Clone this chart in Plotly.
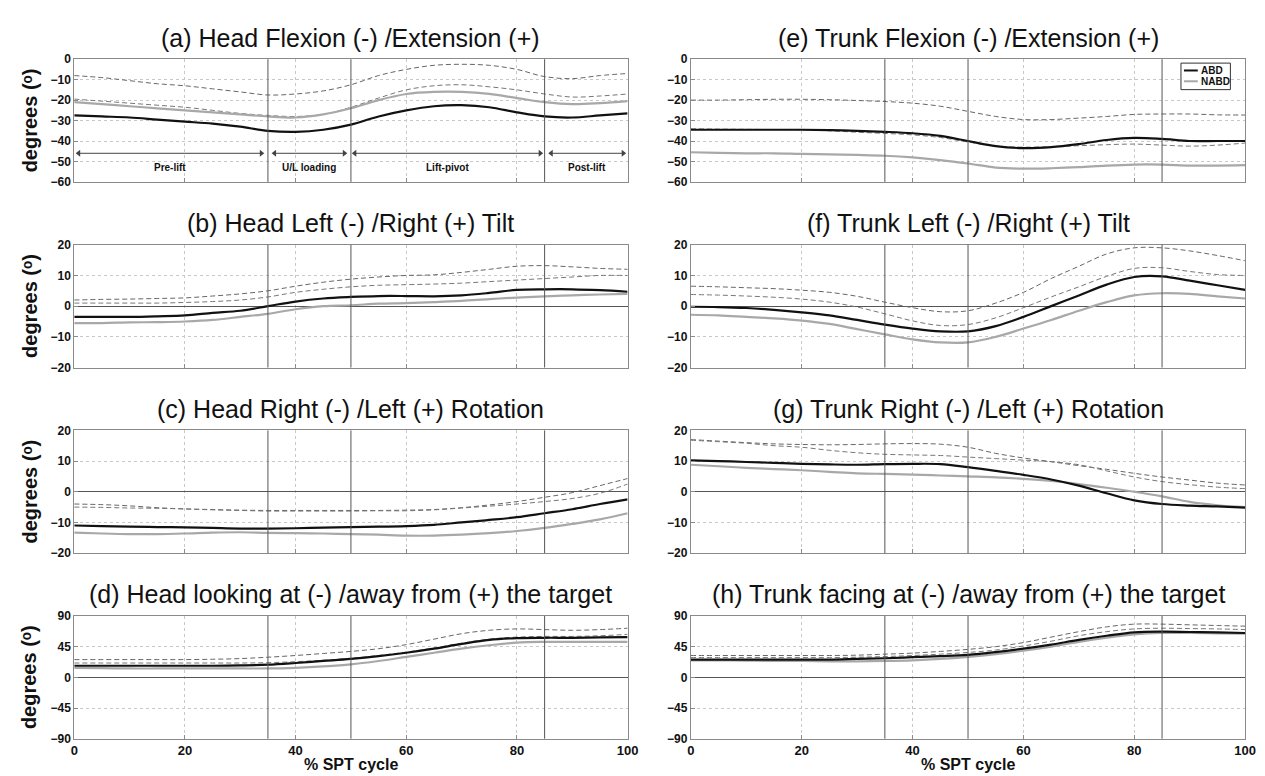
import plotly.graph_objects as go

W, H = 1265, 776

x_pct = [0, 5, 10, 15, 20, 25, 30, 35, 40, 45, 50, 55, 60, 65, 70, 75, 80, 85, 90, 95, 100]

# (a) Head Flexion/Extension
a_abd = [-27.5, -28, -28.5, -29.5, -30.5, -31.5, -33, -35, -35.5, -34.5, -32, -28, -25, -23, -22.5, -23.5, -26, -28, -28.5, -27.5, -26.5]
a_nabd = [-21, -22, -23, -24, -25, -26, -27, -28, -28.5, -27, -24, -20, -17, -16, -16, -17, -19, -21, -22, -21.5, -20.5]
a_sd1 = [-8, -9, -10.5, -12, -13, -14.5, -16, -17.5, -17, -15.5, -12.5, -8, -5, -3, -2.5, -3, -5, -8.5, -9.5, -8, -7]
a_sd2 = [-19.5, -20.5, -21.5, -22.5, -23.5, -25, -26.5, -27.5, -28, -27, -23.5, -19, -15, -13, -12.5, -13.5, -15, -17, -18.5, -18, -17]

# (b) Head Tilt
b_abd = [-3.5, -3.5, -3.5, -3.3, -3, -2.2, -1.5, 0, 1.5, 2.5, 3, 3.3, 3.3, 3.2, 3.5, 4.3, 5.3, 5.5, 5.5, 5.2, 4.7]
b_nabd = [-5.5, -5.5, -5.3, -5.2, -5, -4.5, -3.5, -2.5, -1, 0, 0.3, 0.8, 1, 1.3, 1.7, 2.3, 2.8, 3.2, 3.5, 3.8, 4]
b_sd1 = [2, 2.2, 2.3, 2.5, 2.7, 3.3, 4, 5, 6.5, 7.8, 8.8, 9.5, 10, 10.2, 11, 12, 13, 13.2, 12.8, 12.3, 12]
b_sd2 = [1, 1, 1, 1, 1.2, 1.5, 2, 3, 4.5, 5.5, 6.3, 6.8, 7, 7.2, 7.5, 8, 8.5, 9, 9.5, 10, 10]

# (c) Head Rotation
c_abd = [-11, -11.2, -11.4, -11.5, -11.6, -11.8, -12, -12, -11.9, -11.7, -11.5, -11.4, -11.2, -10.8, -10, -9.2, -8.3, -7, -5.7, -4, -2.5]
c_nabd = [-13.3, -13.6, -13.8, -13.8, -13.6, -13.3, -13.2, -13.4, -13.5, -13.6, -13.8, -14, -14.3, -14.3, -14, -13.5, -12.8, -11.8, -10.5, -9, -7]
c_sd1 = [-4, -4.2, -4.6, -5.2, -5.6, -5.8, -6, -6.1, -6.1, -6.1, -6.1, -6.1, -6, -5.8, -5.2, -4.3, -3.2, -1.8, -0.3, 2, 4.3]
c_sd2 = [-5, -5.1, -5.3, -5.4, -5.6, -5.9, -6.1, -6.3, -6.3, -6.3, -6.3, -6.2, -6.2, -5.9, -5.3, -4.7, -4, -3.2, -2.2, -0.5, 2.5]

# (d) Head looking at/away from target
d_abd = [17, 17, 17, 17, 17, 17, 17.5, 18.5, 21, 24, 27, 31, 36, 42, 49, 55, 57.5, 58, 58, 58.5, 59]
d_nabd = [14, 13.5, 13, 13, 13, 13, 13, 13, 14, 16, 19, 24, 30, 36, 42, 47, 51, 52, 52, 52, 52]
d_sd1 = [26, 26, 26, 26, 26, 26.5, 27.5, 29.5, 32, 35, 38, 42, 48, 56, 64, 69, 71, 70, 69, 70, 72]
d_sd2 = [21, 21, 21, 21, 21, 21, 21, 21.5, 23, 25, 28, 32, 37, 43, 50, 56, 59, 60, 60, 61, 63]

# (e) Trunk Flexion/Extension
e_abd = [-34.5, -34.5, -34.5, -34.5, -34.5, -34.7, -35, -35.5, -36.2, -37.5, -40, -42.5, -43.5, -43, -41.5, -39.5, -38.5, -39, -40, -40, -40]
e_nabd = [-45.5, -45.8, -46, -46, -46.3, -46.5, -46.8, -47.2, -48, -49.3, -51, -53, -53.5, -53.3, -52.8, -52, -51.5, -51.5, -52, -52, -51.8]
e_sd1 = [-20, -20, -19.8, -19.6, -19.6, -19.8, -20.2, -20.7, -21.5, -23, -25.5, -28, -29.5, -29.5, -28.8, -28, -27, -26.8, -26.8, -27.2, -27.3]
e_sd2 = [-34, -34.2, -34.3, -34.4, -34.5, -35, -35.7, -36.3, -37, -38.3, -40.5, -42.5, -43, -42.8, -42.3, -41.8, -41.5, -42, -42.5, -42, -41]

# (f) Trunk Tilt
f_abd = [-0.2, -0.3, -0.6, -1.2, -2, -3, -4.5, -6, -7.3, -8.2, -8.2, -6.5, -3.5, 0, 3.5, 7, 9.5, 9.7, 8.3, 6.8, 5.3]
f_nabd = [-2.8, -3, -3.5, -4, -4.7, -5.8, -7.5, -9.2, -10.8, -11.8, -11.8, -10, -7.3, -4.5, -1.5, 1.3, 3.5, 4.2, 4, 3.2, 2.5]
f_sd1 = [6.5, 6.3, 6, 5.7, 5.2, 4.5, 3.2, 1.3, -0.5, -1.8, -1.5, 1, 4.5, 9, 13, 17, 19, 19, 18, 16.5, 14.8]
f_sd2 = [3.8, 3.6, 3.3, 2.9, 2.3, 1.3, -0.3, -2.5, -4.8, -6.3, -6, -3.8, -0.5, 3, 6.3, 9.7, 12.3, 12.5, 11.3, 10.3, 10]

# (g) Trunk Rotation
g_abd = [10.2, 10, 9.7, 9.4, 9.1, 8.9, 8.8, 9, 9.1, 9, 8, 6.8, 5.5, 4, 2, -0.5, -2.8, -4, -4.5, -4.8, -5.2]
g_nabd = [8.8, 8.3, 7.8, 7.4, 7, 6.5, 6, 5.8, 5.6, 5.3, 5, 4.7, 4.2, 3.5, 2.5, 1.3, 0, -1.5, -3.3, -4.4, -5]
g_sd1 = [17, 16.5, 16, 15.6, 15.4, 15.3, 15.4, 15.6, 15.7, 15.5, 14.5, 12.5, 11, 9.8, 8.5, 7.3, 6, 4.8, 3.8, 2.8, 2.2]
g_sd2 = [16.8, 16.3, 15.8, 15, 14.5, 13.5, 12.7, 12.2, 12, 11.8, 11.3, 10.8, 10.3, 9.8, 8.8, 6.8, 4.8, 3.3, 2.3, 1.5, 1]

# (h) Trunk facing at/away from target
h_abd = [26, 26, 26, 26, 26, 26, 27, 28, 29.5, 31, 33, 37, 42, 48, 55, 61, 66, 67, 66.5, 66, 65]
h_nabd = [25, 25, 24.5, 24, 24, 23.5, 23.5, 24, 25, 27, 30, 34, 39, 45, 52, 58, 63, 65, 65, 64.5, 64]
h_sd1 = [32, 32, 32, 32, 32, 32, 32.5, 34, 35.5, 38, 41, 45, 51, 59, 67, 74, 78, 78, 77, 76, 75]
h_sd2 = [29, 29, 29, 29, 29, 29, 29.5, 30.5, 32, 34, 36.5, 40, 46, 53, 61, 67, 71, 72, 71.5, 71, 70]

titles = ["(a) Head Flexion (-) /Extension (+)",
          "(b) Head Left (-) /Right (+) Tilt",
          "(c) Head Right (-) /Left (+) Rotation",
          "(d) Head looking at (-) /away from (+) the target",
          "(e) Trunk Flexion (-) /Extension (+)",
          "(f) Trunk Left (-) /Right (+) Tilt",
          "(g) Trunk Right (-) /Left (+) Rotation",
          "(h) Trunk facing at (-) /away from (+) the target"]

panels = [
    (a_abd, a_nabd, a_sd1, a_sd2),
    (b_abd, b_nabd, b_sd1, b_sd2),
    (c_abd, c_nabd, c_sd1, c_sd2),
    (d_abd, d_nabd, d_sd1, d_sd2),
    (e_abd, e_nabd, e_sd1, e_sd2),
    (f_abd, f_nabd, f_sd1, f_sd2),
    (g_abd, g_nabd, g_sd1, g_sd2),
    (h_abd, h_nabd, h_sd1, h_sd2),
]

y_ranges = [(-60, 0), (-20, 20), (-20, 20), (-90, 90),
            (-60, 0), (-20, 20), (-20, 20), (-90, 90)]
y_ticks = [[0, -10, -20, -30, -40, -50, -60],
           [20, 10, 0, -10, -20],
           [20, 10, 0, -10, -20],
           [90, 45, 0, -45, -90]] * 2
x_ticks = [0, 20, 40, 60, 80, 100]
phase_lines = [35, 50, 85]
phase_names = ["Pre-lift", "U/L loading", "Lift-pivot", "Post-lift"]
phase_from = [0.8, 36.2, 50.7, 86.2]
phase_to = [33.8, 48.8, 84.2, 99.2]
phase_arrow_y = -46
phase_label_y = -53
legend_names = ["ABD", "NABD"]
y_label = "degrees (ᵒ)"
x_label = "% SPT cycle"

ABD_COL = "#111111"
NABD_COL = "#a8a8a8"

fig = go.Figure()

col_left = (63, 623)
col_right = (687, 1248)
top0, period, ph = 45, 189, 125

FONT = "Liberation Sans Narrow, Arial Narrow, Liberation Sans, Arial"

annotations = []
shapes = []
for i in range(8):
    col = 0 if i < 4 else 1
    row = i % 4
    x0p, x1p = col_left if col == 0 else col_right
    top = top0 + row * period
    bot = top + ph
    xa = "x" if i == 0 else f"x{i+1}"
    ya = "y" if i == 0 else f"y{i+1}"
    xkey = "xaxis" if i == 0 else f"xaxis{i+1}"
    ykey = "yaxis" if i == 0 else f"yaxis{i+1}"
    abd, nabd, sd1, sd2 = panels[i]
    fig.add_trace(go.Scatter(x=x_pct, y=sd1, mode="lines", xaxis=xa, yaxis=ya,
                             line=dict(color="#666666", width=1, dash="5px,3px", shape="spline"),
                             hoverinfo="skip"))
    fig.add_trace(go.Scatter(x=x_pct, y=sd2, mode="lines", xaxis=xa, yaxis=ya,
                             line=dict(color="#777777", width=1, dash="5px,3px", shape="spline"),
                             hoverinfo="skip"))
    fig.add_trace(go.Scatter(x=x_pct, y=nabd, mode="lines", xaxis=xa, yaxis=ya,
                             line=dict(color=NABD_COL, width=2.2, shape="spline"),
                             name=legend_names[1]))
    fig.add_trace(go.Scatter(x=x_pct, y=abd, mode="lines", xaxis=xa, yaxis=ya,
                             line=dict(color=ABD_COL, width=2.2, shape="spline"),
                             name=legend_names[0]))

    bottom_row = row == 3
    fig.layout[xkey] = dict(
        domain=[x0p / W, x1p / W], anchor=ya, range=[0, 100],
        tickvals=x_ticks, showticklabels=bottom_row,
        tickfont=dict(family=FONT, size=13, color="#111", weight="bold"),
        showgrid=True, gridcolor="#c8c8c8", griddash="dot", gridwidth=1,
        showline=True, linecolor="#8a8a8a", linewidth=1, mirror=True,
        ticks="inside", ticklen=4, tickcolor="#8a8a8a",
        zeroline=False, fixedrange=True)
    lo, hi = y_ranges[i]
    fig.layout[ykey] = dict(
        domain=[1 - bot / H, 1 - top / H], anchor=xa, range=[lo, hi],
        tickvals=y_ticks[i],
        tickfont=dict(family=FONT, size=12, color="#111", weight="bold"),
        showgrid=True, gridcolor="#c8c8c8", griddash="dot", gridwidth=1,
        showline=True, linecolor="#8a8a8a", linewidth=1, mirror=True,
        ticks="inside", ticklen=4, tickcolor="#8a8a8a",
        zeroline=(lo < 0 < hi), zerolinecolor="#555555", zerolinewidth=1,
        fixedrange=True)

    for xv in phase_lines:
        shapes.append(dict(type="line", xref=xa, yref=f"{ya} domain", x0=xv, x1=xv,
                           y0=0, y1=1, line=dict(color="#555555", width=1)))

    annotations.append(dict(text=titles[i], xref="paper", yref="paper",
                            x=(x0p + x1p) / 2 / W, y=1 - (top - 22) / H,
                            xanchor="center", yanchor="middle", showarrow=False,
                            font=dict(family=FONT, size=25, color="#111")))
    if col == 0:
        annotations.append(dict(text=y_label, xref="paper", yref="paper",
                                x=18 / W, y=1 - (top + ph / 2) / H, textangle=-90,
                                xanchor="center", yanchor="middle", showarrow=False,
                                font=dict(family="Liberation Sans, DejaVu Sans, Arial", size=20,
                                          color="#111", weight="bold")))
    if bottom_row:
        annotations.append(dict(text=x_label, xref="paper", yref="paper",
                                x=(x0p + x1p) / 2 / W, y=1 - 763 / H,
                                xanchor="center", yanchor="middle", showarrow=False,
                                font=dict(family="Liberation Sans, Arial", size=16,
                                          color="#111", weight="bold")))

# phase arrows in panel (a): line + arrowheads
for name, xf, xt in zip(phase_names, phase_from, phase_to):
    shapes.append(dict(type="line", xref="x", yref="y", x0=xf, x1=xt,
                       y0=phase_arrow_y, y1=phase_arrow_y,
                       line=dict(color="#444444", width=1)))
    fig.add_trace(go.Scatter(x=[xf, xt], y=[phase_arrow_y, phase_arrow_y], mode="markers",
                             xaxis="x", yaxis="y", hoverinfo="skip",
                             marker=dict(symbol=["triangle-left", "triangle-right"],
                                         size=6, color="#444444", line=dict(width=0))))
    annotations.append(dict(x=(xf + xt) / 2, y=phase_label_y, xref="x", yref="y", text=name,
                            showarrow=False, xanchor="center", yanchor="middle",
                            font=dict(family=FONT, size=10, color="#111", weight="bold")))

# legend box in panel (e)
lx0, lx1, ly0, ly1 = 1183, 1233, 49, 76
shapes.append(dict(type="rect", xref="paper", yref="paper",
                   x0=lx0 / W, x1=lx1 / W, y0=1 - ly1 / H, y1=1 - ly0 / H,
                   line=dict(color="#333333", width=1), fillcolor="white"))
for k, (nm, colr) in enumerate(zip(legend_names, [ABD_COL, NABD_COL])):
    yy = 1 - (56.5 + k * 11) / H
    shapes.append(dict(type="line", xref="paper", yref="paper",
                       x0=(lx0 + 3) / W, x1=(lx0 + 17) / W, y0=yy, y1=yy,
                       line=dict(color=colr, width=2)))
    annotations.append(dict(text=nm, xref="paper", yref="paper", x=(lx0 + 18) / W, y=yy,
                            xanchor="left", yanchor="middle", showarrow=False,
                            font=dict(family=FONT, size=10, color="#111", weight="bold")))

fig.update_layout(
    width=W, height=H, margin=dict(l=0, r=0, t=0, b=0),
    paper_bgcolor="white", plot_bgcolor="white",
    shapes=shapes, annotations=annotations,
    showlegend=False,
)

fig.write_html("out.html")
